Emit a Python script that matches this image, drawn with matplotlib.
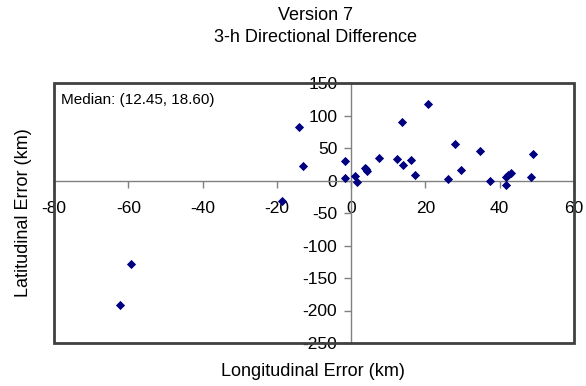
import matplotlib
matplotlib.use("Agg")
import matplotlib.pyplot as plt
from matplotlib.patches import Rectangle

plt.rcParams['font.family'] = ['Liberation Sans', 'DejaVu Sans']
plt.rcParams['axes.unicode_minus'] = False

# longitudinal / latitudinal errors (km)
lon_err = [-62.1, -59.4, -18.6, -14.0, -13.0, -1.6, -1.6, 1.1, 1.5, 3.6, 4.0, 4.4,
           7.5, 12.3, 13.8, 14.0, 16.0, 17.3, 20.7, 26.0, 28.0, 29.5, 34.6,
           37.3, 41.7, 41.6, 42.3, 43.0, 48.5, 49.0]
lat_err = [-191.5, -128.5, -31.5, 82.8, 21.8, 30.0, 4.0, 7.0, -3.0, 20.0, 17.5, 15.0,
           35.0, 33.5, 90.7, 24.0, 32.0, 8.0, 118.0, 2.0, 56.0, 15.5, 45.0,
           -1.0, -7.0, 6.0, 9.0, 12.0, 6.0, 41.0]

x_ticks = [-80, -60, -40, -20, 0, 20, 40, 60]
y_ticks = [-250, -200, -150, -100, -50, 0, 50, 100, 150]

fig = plt.figure(figsize=(5.86, 3.86), dpi=100)
ax = fig.add_axes([54 / 586, 43 / 386, 520 / 586, 260 / 386])

ax.scatter(lon_err, lat_err, marker='D', s=22, color='#000080', zorder=3,
           linewidths=0)

ax.set_xlim(-80, 60)
ax.set_ylim(-250, 150)
ax.set_xticks(x_ticks)
ax.set_yticks(y_ticks)

# axes crossing at the origin, Excel style
ax.spines['left'].set_position('zero')
ax.spines['bottom'].set_position('zero')
for side in ['top', 'right']:
    ax.spines[side].set_visible(False)
for side in ['left', 'bottom']:
    ax.spines[side].set_color('#808080')
    ax.spines[side].set_linewidth(1)
ax.tick_params(direction='out', length=5, width=1, color='#808080',
               labelsize=12.5, labelcolor='black')
ax.tick_params(axis='x', pad=10)
ax.tick_params(axis='y', pad=5)

ax.add_patch(Rectangle((0, 0), 1, 1, transform=ax.transAxes, fill=False,
                       edgecolor='#404040', linewidth=2, zorder=4,
                       clip_on=False))

ax.text(0.014, 0.96, 'Median: (12.45, 18.60)', transform=ax.transAxes,
        fontsize=11, va='top', ha='left')

fig.text(316 / 586, 1 - 15 / 386, 'Version 7', ha='center', va='center',
         fontsize=13)
fig.text(316 / 586, 1 - 37 / 386, '3-h Directional Difference', ha='center',
         va='center', fontsize=13)
fig.text(313 / 586, 1 - 372 / 386, 'Longitudinal Error (km)', ha='center',
         va='center', fontsize=13)
fig.text(24 / 586, 1 - 213 / 386, 'Latitudinal Error (km)', ha='center',
         va='center', fontsize=13, rotation=90)

fig.savefig('out.png', dpi=100)
